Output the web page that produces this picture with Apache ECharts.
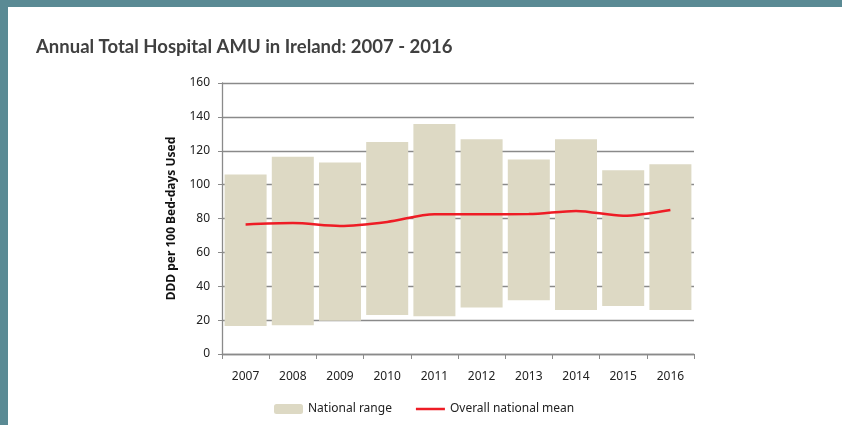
<html>
<head>
    <meta charset="utf-8">
    <title>AMU</title>
    <script src="https://cdn.jsdelivr.net/npm/echarts@6/dist/echarts.min.js"></script>
    <style>
        body { margin: 0; background: #fff; }
        #main { position: absolute; left: 0; top: 0; width: 842px; height: 425px; }
        .bar-top { position: absolute; left: 0; top: 0; width: 842px; height: 7px; background: #5a8a94; }
        .bar-left { position: absolute; left: 0; top: 0; width: 8px; height: 425px; background: #5a8a94; }
    </style>
</head>
<body>
    <div id="main"></div>
    <div class="bar-top"></div>
    <div class="bar-left"></div>
    <script type="text/javascript">
        // 数据
        var years = ['2007', '2008', '2009', '2010', '2011', '2012', '2013', '2014', '2015', '2016'];
        var rangeMin = [16.5, 17, 19.6, 23, 22.3, 27.5, 31.8, 26, 28.3, 26];
        var rangeMax = [106, 116.5, 113, 125.2, 135.8, 126.8, 114.8, 126.8, 108.5, 112];
        var meanVals = [76.5, 77.3, 75.6, 78, 82.5, 82.5, 82.6, 84.5, 81.6, 85];
        var yTicks = [0, 20, 40, 60, 80, 100, 120, 140, 160];

        var spans = [];
        for (var i = 0; i < years.length; i++) {
            spans.push(+(rangeMax[i] - rangeMin[i]).toFixed(1));
        }

        var grey = '#8a8a8a';
        var myChart = echarts.init(document.getElementById('main'));
        var option = {
            animation: false,
            title: {
                text: 'Annual Total Hospital AMU in Ireland: 2007 - 2016',
                left: 31, top: 33,
                textStyle: { fontFamily: 'Lato', fontWeight: 'bold', fontSize: 18.5, color: '#404040' }
            },
            legend: {
                left: 269, top: 398,
                itemWidth: 29, itemHeight: 10, itemGap: 24,
                textStyle: { fontFamily: 'Noto Sans', fontSize: 12, color: '#222' },
                data: [
                    { name: 'National range' },
                    { name: 'Overall national mean', icon: 'path://M0,0 H29 V2.5 H0 Z' }
                ]
            },
            grid: { left: 222, right: 148, top: 83, bottom: 71 },
            xAxis: {
                type: 'category',
                data: years,
                axisLine: { lineStyle: { color: grey, width: 1.3 } },
                axisTick: { show: true, length: 5, lineStyle: { color: grey } },
                axisLabel: { margin: 17, fontFamily: 'Noto Sans', fontSize: 12, color: '#222' }
            },
            yAxis: {
                type: 'value',
                min: yTicks[0], max: yTicks[yTicks.length - 1], interval: 20,
                name: 'DDD per 100 Bed-days Used',
                nameLocation: 'middle', nameGap: 44,
                nameTextStyle: { fontFamily: 'Noto Sans', fontWeight: 'bold', fontSize: 12, color: '#111' },
                axisLine: { show: true, lineStyle: { color: grey, width: 1.3 } },
                axisTick: { show: true, length: 4, lineStyle: { color: grey } },
                axisLabel: { margin: 12, fontFamily: 'Noto Sans', fontSize: 12, color: '#222' },
                splitLine: { lineStyle: { color: grey, width: 1.3 } }
            },
            series: [{
                name: 'base',
                type: 'bar',
                stack: 'r',
                silent: true,
                itemStyle: { color: 'transparent' },
                data: rangeMin
            }, {
                name: 'National range',
                type: 'bar',
                stack: 'r',
                barCategoryGap: '11%',
                itemStyle: { color: '#ddd9c4' },
                data: spans
            }, {
                name: 'Overall national mean',
                type: 'line',
                symbol: 'none',
                smooth: 0.3,
                lineStyle: { color: '#ee1c25', width: 2.5 },
                itemStyle: { color: '#ee1c25' },
                data: meanVals
            }]
        };
        myChart.setOption(option);
    </script>
</body>
</html>
